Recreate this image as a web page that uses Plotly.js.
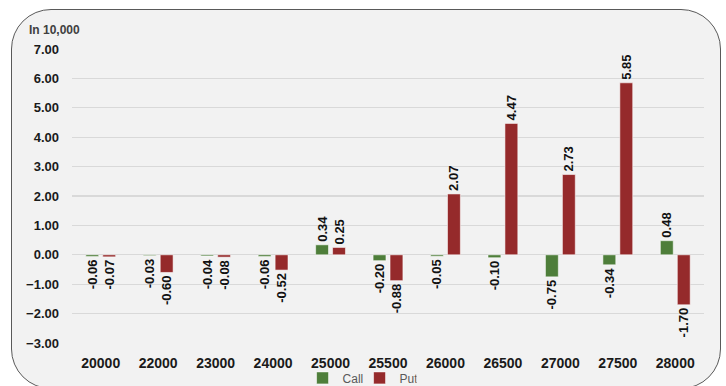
<!DOCTYPE html>
<html>
<head>
<meta charset="utf-8">
<script src="https://cdn.plot.ly/plotly-3.0.1.min.js"></script>
<style>
  html, body { margin:0; padding:0; background:#ffffff; }
  #wrap { position:relative; width:726px; height:386px; overflow:hidden; }
  #frame { position:absolute; left:11px; top:9px; width:708px; height:378px;
           border:1.3px solid #595959; border-radius:40px; background:#f2f2f2; }
  #chart { position:absolute; left:0; top:0; width:726px; height:386px; }
</style>
</head>
<body>
<div id="wrap">
  <div id="frame"></div>
  <div id="chart"></div>
</div>
<script>
const strikes = ['20000','22000','23000','24000','25000','25500','26000','26500','27000','27500','28000'];
const callValues = [-0.06,-0.03,-0.04,-0.06,0.34,-0.20,-0.05,-0.10,-0.75,-0.34,0.48];
const putValues  = [-0.07,-0.60,-0.08,-0.52,0.25,-0.88,2.07,4.47,2.73,5.85,-1.70];
const yTicks = [-3,-2,-1,0,1,2,3,4,5,6,7];
const unitLabel = 'In 10,000';

const labelFont = {family:'Liberation Sans, Arial, sans-serif', size:13, color:'#111111', weight:'bold'};

function barTrace(name, values, color) {
  return {
    type:'bar', name:name, x:strikes, y:values,
    marker:{color:color, line:{color:'rgba(255,255,255,0.55)', width:1}},
    texttemplate:'<b>%{y:.2f}</b>', textposition:'outside', textangle:-90,
    constraintext:'none', cliponaxis:false,
    textfont:labelFont, hoverinfo:'skip'
  };
}

const data = [
  barTrace('Call', callValues, '#4e7e3a'),
  barTrace('Put', putValues, '#952a2b')
];

const layout = {
  width:726, height:386,
  margin:{l:72, r:22, t:49, b:43, autoexpand:false},
  paper_bgcolor:'rgba(0,0,0,0)', plot_bgcolor:'rgba(0,0,0,0)',
  barmode:'group', bargap:0.41, bargroupgap:0.24,
  font:{family:'Liberation Sans, Arial, sans-serif'},
  xaxis:{type:'category', showgrid:false, zeroline:false, showline:false, ticks:'',
         tickfont:{size:14, color:'#1a1a1a', weight:'bold'}, ticklabelstandoff:10, automargin:false},
  yaxis:{range:[-3,7], tickvals:yTicks, tickformat:'.2f', showgrid:true, gridcolor:'#d9d9d9',
         gridwidth:1.3, zeroline:false, showline:false, ticks:'', automargin:false,
         tickfont:{size:13, color:'#1a1a1a', weight:'bold'}, ticklabelstandoff:12},
  showlegend:true,
  legend:{orientation:'h', xref:'paper', x:0.455, xanchor:'center', yref:'container', y:0.021, yanchor:'middle',
          font:{size:12, color:'#595959'}, itemwidth:30, entrywidth:12, entrywidthmode:'pixels',
          bgcolor:'rgba(0,0,0,0)', traceorder:'normal'},
  annotations:[{text:unitLabel, xref:'paper', yref:'paper', x:-0.071, xanchor:'left',
                y:1.064, yanchor:'middle', showarrow:false,
                font:{size:12, color:'#404040', weight:'bold'}}]
};

Plotly.newPlot('chart', data, layout, {displayModeBar:false, staticPlot:true});
</script>
</body>
</html>
